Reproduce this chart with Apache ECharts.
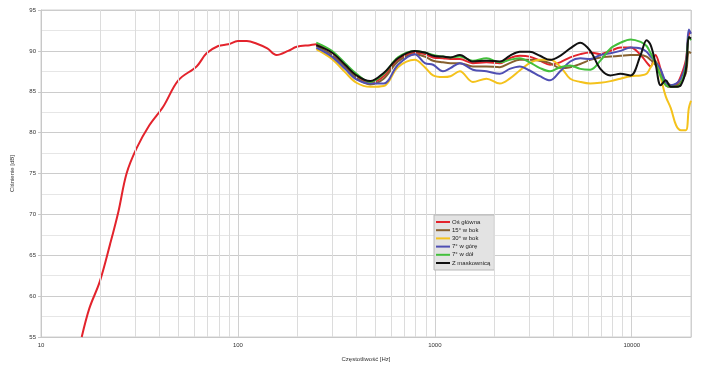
<!DOCTYPE html>
<html><head><meta charset="utf-8">
<script src="https://cdn.jsdelivr.net/npm/echarts@6/dist/echarts.min.js"></script>
<style>html,body{margin:0;padding:0;background:#fff}#c{width:705px;height:371px}</style>
</head><body><div id="c"></div>
<script>
const seriesNames = ['Oś główna', '15° w bok', '30° w bok', '7° w górę', '7° w dół', 'Z maskownicą'];
const seriesColors = ['#e3232c', '#86602f', '#f4c21c', '#4f4fb3', '#43bf3c', '#111111'];

// red (main axis) low-frequency part
const redLowFreq = [16.1, 17.6, 19.9, 22.4, 24.7, 27.2, 30.6, 35.5, 41.8, 49.8, 61.7, 69.3, 79.4, 89.3, 100, 111, 124, 141, 157, 180, 199, 232];
const redLowDb   = [55.0, 58.5, 61.8, 66.3, 70.3, 75.0, 78.1, 80.9, 83.2, 86.4, 88.1, 89.7, 90.6, 90.8, 91.2, 91.2, 90.9, 90.3, 89.5, 90.0, 90.5, 90.7];

// shared frequency grid for all measurements from 250 Hz
const freqs = [250, 300, 350, 400, 470, 550, 650, 790, 890, 980, 1100, 1200, 1340, 1560, 1830, 2140, 2400, 2700, 3030, 3420, 3850, 4330, 4870, 5480, 6160, 6930, 7800, 8770, 9870, 11100, 11900, 12480, 13200, 14040, 14900, 15790, 16800, 17760, 18840, 19500, 20000];

const osGlowna = [90.8, 89.8, 88.3, 87.0, 86.1, 86.9, 88.9, 89.8, 89.6, 89.2, 89.1, 89.0, 89.0, 88.5, 88.6, 88.5, 89.1, 89.4, 89.3, 88.8, 88.3, 88.6, 89.2, 89.6, 89.8, 89.6, 90.0, 90.4, 90.4, 89.5, 88.6, 88.1, 89.5, 87.7, 85.8, 85.6, 85.8, 86.9, 88.9, 92.1, 92.3];
const bok15    = [90.6, 89.5, 88.0, 86.7, 85.9, 86.6, 88.7, 89.6, 89.3, 88.8, 88.6, 88.5, 88.5, 88.1, 88.1, 88.0, 88.5, 88.9, 88.9, 88.8, 88.5, 87.9, 88.0, 88.4, 88.9, 89.2, 89.3, 89.4, 89.5, 89.5, 89.3, 88.9, 88.3, 87.3, 86.2, 85.8, 85.7, 86.2, 87.3, 89.9, 89.7];
const bok30    = [90.2, 89.0, 87.4, 86.1, 85.6, 85.7, 88.0, 88.9, 88.0, 87.0, 86.8, 86.9, 87.5, 86.2, 86.6, 86.0, 86.6, 87.6, 88.5, 88.9, 88.9, 88.1, 86.6, 86.2, 86.0, 86.1, 86.3, 86.6, 86.9, 87.0, 87.2, 88.0, 88.8, 86.7, 84.4, 83.0, 80.9, 80.3, 80.3, 83.0, 83.9];
const gora7    = [90.4, 89.3, 87.8, 86.5, 86.0, 86.0, 88.3, 89.6, 88.5, 88.3, 87.5, 87.9, 88.5, 87.7, 87.5, 87.2, 87.8, 88.1, 87.6, 86.9, 86.4, 87.5, 88.7, 89.1, 89.0, 89.5, 89.7, 90.0, 90.4, 90.3, 89.9, 89.3, 88.7, 87.7, 86.2, 85.8, 86.0, 86.6, 88.5, 92.6, 92.1];
const dol7     = [91.0, 90.0, 88.5, 87.2, 86.2, 87.2, 89.2, 90.0, 89.8, 89.5, 89.3, 89.2, 89.3, 88.8, 89.1, 88.6, 88.9, 89.1, 88.6, 87.9, 87.5, 88.0, 88.2, 87.8, 87.7, 88.8, 90.3, 91.0, 91.4, 91.1, 90.6, 89.7, 88.5, 86.9, 85.8, 85.6, 85.6, 86.0, 88.1, 91.7, 91.3];
const maskown  = [90.7, 89.8, 88.3, 87.0, 86.3, 87.3, 89.1, 90.0, 89.8, 89.4, 89.3, 89.2, 89.5, 88.7, 88.8, 88.7, 89.4, 89.9, 89.9, 89.4, 88.9, 89.4, 90.3, 91.0, 90.0, 87.8, 87.0, 87.2, 87.0, 89.5, 91.3, 90.7, 88.5, 85.8, 86.4, 85.6, 85.6, 85.8, 87.7, 91.7, 91.5];

const xTickLabels = [10, 100, 1000, 10000];
const xMin = 10, xMax = 20000;
const yMin = 55, yMax = 95, yStep = 5;

const pairs = (fs, vs) => fs.map((f, i) => [f, vs[i]]);
const seriesValues = [
  pairs(redLowFreq.concat(freqs), redLowDb.concat(osGlowna)),
  pairs(freqs, bok15),
  pairs(freqs, bok30),
  pairs(freqs, gora7),
  pairs(freqs, dol7),
  pairs(freqs, maskown)
];

// log grid minor lines 2..9 of every decade
const minorX = [];
for (let d = xMin; d < xMax; d *= 10) for (let k = 2; k <= 9; k++) if (d * k < xMax) minorX.push(d * k);

const FONT = 'Liberation Sans, Arial, sans-serif';
const chart = echarts.init(document.getElementById('c'), null, {renderer: 'canvas'});
const series = seriesValues.map((d, i) => ({
  name: seriesNames[i], type: 'line', data: d, showSymbol: false, symbol: 'none',
  smooth: 0.35, z: 3 + i,
  lineStyle: {color: seriesColors[i], width: 2}, itemStyle: {color: seriesColors[i]}
}));
series.unshift({
  name: '_grid', type: 'line', data: [], silent: true, z: 1,
  markLine: {silent: true, symbol: 'none', animation: false, label: {show: false},
    lineStyle: {color: '#dcdcdc', width: 1, type: 'solid'},
    data: minorX.map(v => ({xAxis: v}))}
});

chart.setOption({
  animation: false,
  backgroundColor: '#ffffff',
  grid: {left: 41, right: 14, top: 10, bottom: 34, show: true, borderColor: '#d0d0d0', borderWidth: 1, backgroundColor: 'transparent'},
  legend: {
    data: seriesNames, orient: 'vertical', left: 434, top: 215,
    icon: 'rect', itemWidth: 14, itemHeight: 2, itemGap: 0.2,
    padding: [3, 4, 3, 2],
    backgroundColor: '#e3e3e3', borderColor: '#b8b8b8', borderWidth: 1, borderRadius: 0,
    textStyle: {fontFamily: FONT, fontSize: 6, color: '#222', lineHeight: 8, padding: [0, 0, 0, -3]}
  },
  xAxis: {
    type: 'log', logBase: 10, min: xMin, max: xMax,
    name: 'Częstotliwość [Hz]', nameLocation: 'middle', nameGap: 19,
    nameTextStyle: {fontFamily: FONT, fontSize: 6, color: '#333'},
    axisLine: {show: true, lineStyle: {color: '#c8c8c8'}},
    axisTick: {show: false},
    axisLabel: {fontFamily: FONT, fontSize: 6, color: '#333', margin: 5, showMaxLabel: false,
      formatter: v => { const r = Math.round(v); return xTickLabels.includes(r) ? String(r) : ''; }},
    splitLine: {show: true, lineStyle: {color: '#d0d0d0', width: 1}}
  },
  yAxis: {
    type: 'value', min: yMin, max: yMax, interval: yStep,
    name: 'Ciśnienie [dB]', nameLocation: 'middle', nameGap: 26,
    nameTextStyle: {fontFamily: FONT, fontSize: 6, color: '#333'},
    axisLine: {show: true, lineStyle: {color: '#c8c8c8'}},
    axisTick: {show: true, length: 3, lineStyle: {color: '#c8c8c8'}},
    axisLabel: {fontFamily: FONT, fontSize: 6, color: '#333', margin: 5},
    splitLine: {show: true, lineStyle: {color: '#cccccc', width: 1}},
    minorTick: {show: false, splitNumber: 2},
    minorSplitLine: {show: true, lineStyle: {color: '#e6e6e6', width: 1}}
  },
  series: series
});
</script></body></html>
